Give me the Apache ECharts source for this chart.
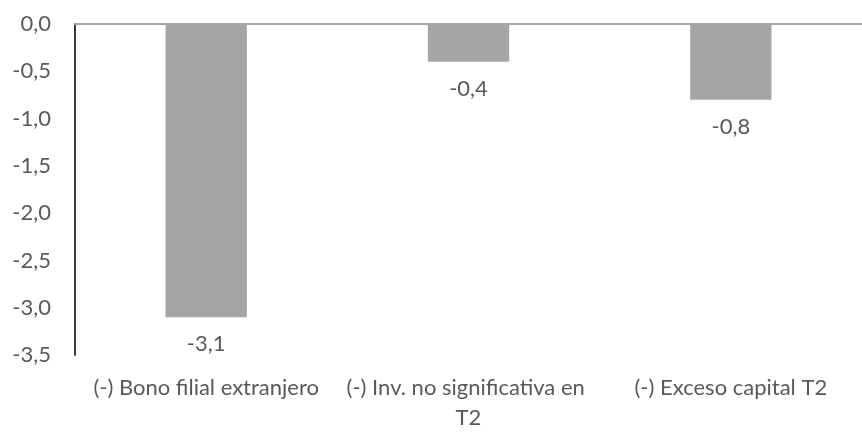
<!DOCTYPE html>
<html>
<head>
<meta charset="utf-8">
<script src="https://cdn.jsdelivr.net/npm/echarts@6/dist/echarts.min.js"></script>
<style>
  html, body { margin: 0; padding: 0; background: #ffffff; }
  #chart { width: 862px; height: 433px; }
</style>
</head>
<body>
<div id="chart"></div>
<script>
// Deductions (values in the chart's units)
const categories = [
  '(-) Bono filial extranjero',
  '(-) Inv. no significativa en T2',
  '(-) Exceso capital T2'
];
const values = [-3.1, -0.4, -0.8];
const yMin = -3.5;
const yMax = 0;
const yStep = 0.5;

const FONT = 'Lato';
const TEXT = '#595959';
const SIZE = 22;

const fmt = v => v.toFixed(1).replace('.', ',');

const chart = echarts.init(document.getElementById('chart'), null, { renderer: 'canvas' });

chart.setOption({
  animation: false,
  backgroundColor: '#ffffff',
  // plot runs slightly past the right edge of the canvas
  grid: { left: 75, width: 801, top: 24, bottom: 73, containLabel: false },
  xAxis: [
    {
      // zero line along the top of the plot
      type: 'category',
      data: categories,
      position: 'top',
      axisLine: { show: true, onZero: false, lineStyle: { color: '#a6a6a6', width: 2 } },
      axisTick: { show: false },
      axisLabel: { show: false }
    },
    {
      // category names below the plot
      type: 'category',
      data: categories,
      position: 'bottom',
      axisLine: { show: false, onZero: false },
      axisTick: { show: false },
      axisLabel: {
        show: true,
        interval: 0,
        margin: 18,
        color: TEXT,
        fontFamily: FONT,
        fontSize: SIZE,
        lineHeight: 30,
        width: 252,
        overflow: 'break'
      }
    }
  ],
  yAxis: {
    type: 'value',
    min: yMin,
    max: yMax,
    interval: yStep,
    axisLine: { show: true, lineStyle: { color: '#3a3a3a', width: 2 } },
    axisTick: { show: false },
    splitLine: { show: false },
    axisLabel: {
      margin: 24,
      color: TEXT,
      fontFamily: FONT,
      fontSize: SIZE,
      formatter: v => fmt(v)
    }
  },
  series: [
    {
      type: 'bar',
      xAxisIndex: 0,
      data: values,
      barWidth: '31%',
      itemStyle: { color: '#a5a5a5' },
      label: {
        show: true,
        position: 'bottom',
        distance: 16,
        color: TEXT,
        fontFamily: FONT,
        fontSize: SIZE,
        formatter: p => fmt(p.value)
      }
    }
  ]
});
</script>
</body>
</html>
